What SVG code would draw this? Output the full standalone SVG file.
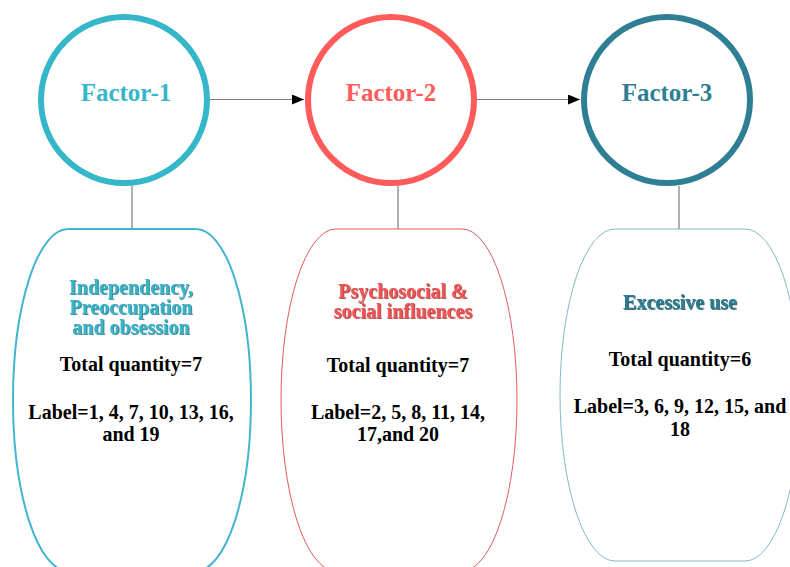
<svg xmlns="http://www.w3.org/2000/svg" width="790" height="567" viewBox="0 0 790 567">
<style>
text{font-family:"Liberation Serif","Times New Roman",serif;font-weight:bold;text-anchor:middle}
.fac{font-size:25px}
.sub{font-size:20px}
.body{font-size:20px;fill:#000}
.conn{stroke:#7a7a7a;stroke-width:1.2;fill:none}
</style>
<defs>
<marker id="arr" viewBox="0 0 12 10" refX="12" refY="5" markerWidth="12" markerHeight="10" markerUnits="userSpaceOnUse" orient="auto">
<path d="M0,0 L12,5 L0,10 Z" fill="#000"/>
</marker>
<filter id="sh1" x="-10%" y="-30%" width="120%" height="160%"><feDropShadow dx="0.8" dy="0.8" stdDeviation="0.3" flood-color="#1d6f7e"/></filter>
<filter id="sh2" x="-10%" y="-30%" width="120%" height="160%"><feDropShadow dx="0.8" dy="0.8" stdDeviation="0.3" flood-color="#9a2a2a"/></filter>
<filter id="sh3" x="-10%" y="-30%" width="120%" height="160%"><feDropShadow dx="0.8" dy="0.8" stdDeviation="0.3" flood-color="#174552"/></filter>
</defs>
<rect width="790" height="567" fill="#fff"/>
<g id="connectors">
<line class="conn" x1="210" y1="99.5" x2="304" y2="99.5" marker-end="url(#arr)"/>
<line class="conn" x1="477" y1="99.5" x2="580" y2="99.5" marker-end="url(#arr)"/>
<line class="conn" x1="132" y1="186" x2="132" y2="229"/>
<line class="conn" x1="398" y1="186" x2="398" y2="229"/>
<line class="conn" x1="679" y1="186" x2="679" y2="229"/>
</g>
<g id="factor1">
<circle cx="124" cy="100" r="83" fill="#fff" stroke="#36b7c9" stroke-width="6"/>
<text class="fac" x="126" y="101" fill="#36b7c9">Factor-1</text>
</g>
<g id="factor2">
<circle cx="391" cy="100" r="83" fill="#fff" stroke="#ff5b5b" stroke-width="6"/>
<text class="fac" x="391" y="101" fill="#ff5b5b">Factor-2</text>
</g>
<g id="factor3">
<circle cx="667" cy="100" r="83" fill="#fff" stroke="#2e7f93" stroke-width="6"/>
<text class="fac" x="667" y="101" fill="#2e7f93">Factor-3</text>
</g>
<g id="box1">
<rect x="13" y="229" width="238" height="342" rx="55" ry="171" fill="#fff" stroke="#45b5cf" stroke-width="2"/>
<g filter="url(#sh1)" fill="#3ab3c8">
<text class="sub" x="131" y="294">Independency,</text>
<text class="sub" x="131" y="314">Preoccupation</text>
<text class="sub" x="131" y="334">and obsession</text>
</g>
<text class="body" x="131" y="371">Total quantity=7</text>
<text class="body" x="131" y="419">Label=1, 4, 7, 10, 13, 16,</text>
<text class="body" x="131" y="441">and 19</text>
</g>
<g id="box2">
<rect x="281" y="229" width="236" height="342" rx="55" ry="171" fill="#fff" stroke="#e25a5a" stroke-width="1"/>
<g filter="url(#sh2)" fill="#f05656">
<text class="sub" x="403" y="298">Psychosocial &amp;</text>
<text class="sub" x="403" y="318">social influences</text>
</g>
<text class="body" x="398" y="372">Total quantity=7</text>
<text class="body" x="398" y="419">Label=2, 5, 8, 11, 14,</text>
<text class="body" x="398" y="441">17,and 20</text>
</g>
<g id="box3">
<rect x="560" y="229" width="240" height="332" rx="55" ry="166" fill="#fff" stroke="#7fb9c9" stroke-width="1"/>
<text class="sub" x="680" y="309" fill="#2e7d91" filter="url(#sh3)">Excessive use</text>
<text class="body" x="680" y="366">Total quantity=6</text>
<text class="body" x="680" y="413">Label=3, 6, 9, 12, 15, and</text>
<text class="body" x="680" y="436">18</text>
</g>
</svg>
